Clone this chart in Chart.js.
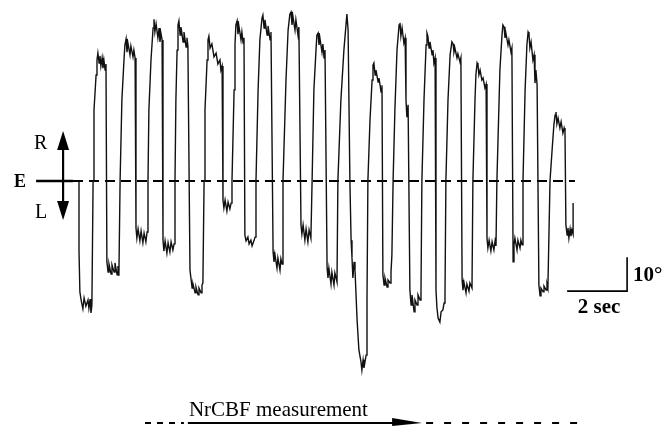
<!DOCTYPE html>
<html>
<head>
<meta charset="utf-8">
<script src="https://cdn.jsdelivr.net/npm/chart.js@4"></script>
<style>
  html, body { margin: 0; padding: 0; background: #fff; }
  canvas { display: block; }
</style>
</head>
<body>
<canvas id="chart" width="664" height="426"></canvas>
<script>
// Horizontal eye position (deg, R positive) against time (s)
const eyeTrace = [
  [0.00, 0], [0.00, -20.3], [0.03, -32.6], [0.07, -35.0], [0.13, -37.6], [0.17, -34.4], [0.23, -36.8], [0.30, -35.0], [0.33, -37.4], [0.37, -34.7], [0.40, -38.8], [0.43, -36.5],
  [0.47, 0], [0.50, 20.9], [0.57, 31.2], [0.60, 35.6],
  [0.63, 37.6], [0.67, 34.7], [0.70, 36.8], [0.73, 33.8], [0.77, 36.2], [0.80, 33.2], [0.83, 35.6], [0.87, 32.6], [0.90, 34.4],
  [0.93, -23.8], [0.97, -26.8], [1.00, -24.4], [1.07, -27.4], [1.10, -24.7], [1.17, -26.8], [1.20, -24.1], [1.27, -27.6], [1.30, -25.0], [1.33, -27.9],
  [1.37, 0], [1.43, 23.8], [1.50, 35.6], [1.53, 40.0],
  [1.57, 41.8], [1.60, 37.9], [1.63, 40.6], [1.70, 37.1], [1.73, 39.7], [1.80, 36.5], [1.83, 38.5], [1.87, 36.2],
  [1.90, -13.8], [1.93, -16.8], [1.97, -14.1], [2.03, -17.6], [2.07, -14.7], [2.13, -18.2], [2.17, -15.3], [2.23, -17.9], [2.27, -15.0],
  [2.30, 0], [2.33, 20.9], [2.40, 35.6], [2.47, 45.0],
  [2.50, 47.6], [2.53, 43.8], [2.57, 46.2], [2.63, 42.1], [2.67, 45.0], [2.70, 40.9], [2.73, 43.5], [2.77, 41.5],
  [2.80, -17.4], [2.83, -20.6], [2.87, -17.6], [2.93, -21.2], [2.97, -18.2], [3.03, -20.9], [3.07, -17.9], [3.13, -20.3], [3.17, -18.5],
  [3.20, 0], [3.23, 23.8], [3.27, 38.5], [3.30, 45.9],
  [3.33, 47.1], [3.37, 42.9], [3.40, 45.3], [3.47, 40.9], [3.50, 43.8], [3.57, 39.4], [3.60, 42.1], [3.63, 39.7],
  [3.70, -26.2], [3.77, -31.5], [3.80, -30.3], [3.87, -32.9], [3.90, -31.2], [3.97, -33.5], [4.00, -31.5], [4.07, -32.9], [4.10, -30.6], [4.13, -30.0],
  [4.17, 0], [4.20, 20.9], [4.27, 35.6], [4.30, 41.5],
  [4.33, 42.6], [4.37, 39.1], [4.43, 40.3], [4.50, 36.5], [4.57, 37.6], [4.63, 34.4], [4.70, 35.6], [4.73, 32.6], [4.77, 33.8],
  [4.80, -5.6], [4.83, -7.9], [4.87, -5.6], [4.93, -8.8], [4.97, -6.2], [5.03, -8.2], [5.07, -6.5],
  [5.10, 0], [5.17, 26.8], [5.20, 40.0], [5.23, 45.9],
  [5.27, 47.1], [5.30, 43.2], [5.33, 45.6], [5.40, 41.5], [5.43, 43.8], [5.47, 40.6], [5.50, 42.1],
  [5.53, -15.9], [5.57, -17.6], [5.63, -16.5], [5.67, -18.5], [5.73, -17.4], [5.77, -19.1], [5.83, -17.6], [5.87, -16.5],
  [5.90, 0], [5.97, 26.8], [6.03, 41.5], [6.10, 47.9],
  [6.13, 48.8], [6.17, 45.0], [6.20, 47.4], [6.27, 42.9], [6.30, 45.6], [6.37, 41.5], [6.40, 43.8],
  [6.47, -20.9], [6.50, -23.8], [6.53, -21.5], [6.60, -25.6], [6.63, -22.6], [6.70, -26.2], [6.73, -22.9], [6.77, -24.4],
  [6.80, 0], [6.90, 29.7], [6.97, 44.4], [7.03, 49.1],
  [7.07, 49.7], [7.10, 45.9], [7.13, 48.5], [7.20, 44.4], [7.23, 47.4], [7.30, 42.9], [7.33, 45.3],
  [7.40, -12.9], [7.43, -15.6], [7.47, -12.9], [7.53, -17.4], [7.57, -14.1], [7.63, -17.9], [7.67, -14.4], [7.73, -16.8],
  [7.77, 0], [7.83, 26.8], [7.90, 38.5], [7.93, 42.9],
  [7.97, 43.5], [8.00, 40.0], [8.03, 42.1], [8.10, 37.9], [8.13, 40.3], [8.17, 36.2], [8.20, 38.5],
  [8.27, -25.6], [8.30, -28.5], [8.33, -25.6], [8.40, -30.3], [8.43, -26.8], [8.50, -30.6], [8.53, -27.1], [8.60, -29.7],
  [8.63, 0], [8.73, 23.8], [8.83, 38.5], [8.93, 49.1], [8.97, 44.4], [9.03, 0],
  [9.07, -17.4], [9.10, -22.6], [9.13, -28.5], [9.17, -23.8], [9.20, -26.2], [9.27, -40.9], [9.33, -49.7], [9.40, -53.2], [9.43, -55.6], [9.47, -52.6], [9.50, -55.0], [9.57, -51.2], [9.60, -35.0],
  [9.63, 0], [9.70, 17.9], [9.77, 29.7], [9.80, 34.1],
  [9.83, 34.7], [9.87, 31.2], [9.90, 32.6], [9.97, 29.1], [10.00, 30.3], [10.07, 26.2], [10.10, 28.2],
  [10.13, -27.6], [10.17, -30.6], [10.20, -28.5], [10.27, -31.2], [10.30, -29.1], [10.37, -30.0], [10.40, -26.8], [10.43, -21.8],
  [10.47, 0], [10.53, 20.9], [10.60, 38.5], [10.67, 45.9],
  [10.70, 46.5], [10.73, 42.6], [10.77, 45.0], [10.83, 40.6], [10.87, 42.1], [10.90, 23.8], [10.93, 18.8], [10.97, 22.4],
  [11.03, -32.1], [11.07, -36.5], [11.10, -33.5], [11.17, -38.5], [11.20, -35.0], [11.27, -36.5], [11.30, -33.5], [11.37, -35.0], [11.40, -32.1],
  [11.43, 0], [11.50, 23.8], [11.57, 40.0], [11.60, 43.5],
  [11.63, 42.6], [11.67, 39.1], [11.70, 40.9], [11.77, 37.1], [11.80, 38.5], [11.83, 34.7], [11.87, 36.2],
  [11.90, -32.1], [11.93, -37.1], [11.97, -40.3], [12.03, -41.5], [12.07, -38.5], [12.13, -37.9], [12.17, -35.9], [12.20, -33.5],
  [12.23, 0], [12.30, 23.8], [12.37, 37.1], [12.43, 40.9],
  [12.47, 40.3], [12.50, 37.9], [12.53, 39.1], [12.60, 36.2], [12.63, 37.4], [12.70, 35.0], [12.73, 36.2],
  [12.77, -29.1], [12.80, -32.1], [12.83, -29.7], [12.90, -32.9], [12.93, -30.3], [13.00, -32.4], [13.03, -30.0], [13.10, -31.5],
  [13.13, 0], [13.20, 23.8], [13.23, 31.2], [13.27, 34.7],
  [13.30, 34.1], [13.33, 31.2], [13.37, 32.6], [13.43, 29.7], [13.47, 30.3], [13.53, 27.4], [13.57, 28.5],
  [13.60, -16.8], [13.63, -19.7], [13.67, -17.4], [13.73, -20.6], [13.77, -17.9], [13.83, -20.3], [13.87, -17.6], [13.90, -19.1],
  [13.93, 0], [14.03, 32.6], [14.10, 42.9], [14.13, 45.9],
  [14.17, 45.3], [14.20, 42.1], [14.23, 43.5], [14.30, 40.0], [14.33, 41.5], [14.40, 37.9], [14.43, 39.1],
  [14.47, -23.8], [14.50, -18.8], [14.53, -16.8], [14.60, -20.3], [14.63, -17.4], [14.70, -19.7], [14.73, -17.4], [14.77, -18.8],
  [14.80, 0], [14.87, 26.8], [14.93, 40.0], [14.97, 43.8],
  [15.00, 43.2], [15.03, 39.1], [15.07, 40.9], [15.13, 35.6], [15.17, 37.1], [15.20, 28.8], [15.23, 32.6], [15.27, 28.2],
  [15.33, -30.6], [15.37, -33.8], [15.40, -31.5], [15.47, -32.6], [15.50, -30.9], [15.57, -32.1], [15.60, -30.3], [15.63, -31.5],
  [15.70, 0], [15.77, 9.1], [15.83, 16.5], [15.87, 19.4],
  [15.90, 20.3], [15.93, 16.8], [15.97, 18.5], [16.03, 15.6], [16.07, 17.4], [16.13, 14.1], [16.17, 15.6], [16.20, 14.4],
  [16.23, -12.9], [16.27, -15.9], [16.30, -13.8], [16.33, -16.8], [16.37, -14.1], [16.40, -16.2], [16.43, -14.4], [16.47, -15.6], [16.47, -6.5]
];

// Axis ranges (s, deg) and reference marks
const timeRange = [-2.633, 19.5];
const degRange = [-72.06, 53.24];
const eLineSolid = [-1.43, -0.2];
const eLineDashed = [-0.2, 16.53];
const dirArrow = { t: -0.53, top: 14.7, bottom: -11.5 };
const scaleBarSec = 2;
const scaleBarDeg = 10;
const scaleBarCorner = [18.27, -32.4];
const nrcbfWindow = [3.63, 11.37];
const nrcbfDashed = [2.2, 16.97];

const serif = "'Liberation Serif', 'DejaVu Serif', serif";

const ctx = document.getElementById('chart').getContext('2d');

const annotations = {
  id: 'annotations',
  afterDatasetsDraw(chart) {
    const c = chart.ctx;
    const xs = chart.scales.x, ys = chart.scales.y;
    c.save();
    c.fillStyle = '#000';
    c.strokeStyle = '#000';

    // R / L arrow
    const ax = xs.getPixelForValue(dirArrow.t);
    const aTop = ys.getPixelForValue(dirArrow.top);
    const aBot = ys.getPixelForValue(dirArrow.bottom);
    c.lineWidth = 2.2;
    c.beginPath();
    c.moveTo(ax, aTop + 10);
    c.lineTo(ax, aBot - 10);
    c.stroke();
    c.beginPath();
    c.moveTo(ax, aTop); c.lineTo(ax - 6, aTop + 19); c.lineTo(ax + 6, aTop + 19); c.closePath();
    c.fill();
    c.beginPath();
    c.moveTo(ax, aBot); c.lineTo(ax - 6, aBot - 19); c.lineTo(ax + 6, aBot - 19); c.closePath();
    c.fill();

    c.textBaseline = 'alphabetic';
    c.textAlign = 'left';
    c.font = '20px ' + serif;
    c.fillText('R', 34, 149);
    c.fillText('L', 35, 218);
    c.font = 'bold 18px ' + serif;
    c.fillText('E', 14, 187);

    // scale bar
    const sx1 = xs.getPixelForValue(scaleBarCorner[0]);
    const sx0 = xs.getPixelForValue(scaleBarCorner[0] - scaleBarSec);
    const sy0 = ys.getPixelForValue(scaleBarCorner[1]);
    const sy1 = ys.getPixelForValue(scaleBarCorner[1] + scaleBarDeg);
    c.lineWidth = 1.6;
    c.beginPath();
    c.moveTo(sx0, sy0); c.lineTo(sx1, sy0); c.lineTo(sx1, sy1);
    c.stroke();
    c.font = 'bold 21px ' + serif;
    c.fillText('10°', sx1 + 6, sy1 + 24);
    c.textAlign = 'center';
    c.fillText('2 sec', (sx0 + sx1) / 2 + 2, sy0 + 22);

    // NrCBF measurement bar
    const by = 423;
    const d0 = xs.getPixelForValue(nrcbfDashed[0]);
    const d1 = xs.getPixelForValue(nrcbfDashed[1]);
    const w0 = xs.getPixelForValue(nrcbfWindow[0]);
    const w1 = xs.getPixelForValue(nrcbfWindow[1]);
    c.lineWidth = 2;
    c.setLineDash([6, 6]);
    c.beginPath(); c.moveTo(d0, by); c.lineTo(w0 - 4, by); c.stroke();
    c.setLineDash([7, 11]);
    c.beginPath(); c.moveTo(w1 + 6, by); c.lineTo(d1, by); c.stroke();
    c.setLineDash([]);
    c.lineWidth = 1.8;
    c.beginPath(); c.moveTo(w0, by); c.lineTo(w1 - 20, by); c.stroke();
    c.beginPath();
    c.moveTo(w1 - 28, by - 5); c.lineTo(w1 + 2, by); c.lineTo(w1 - 28, by + 3); c.closePath();
    c.fill();
    c.textAlign = 'left';
    c.font = '21px ' + serif;
    c.fillText('NrCBF measurement', w0 + 1, 416);
    c.restore();
  }
};

new Chart(ctx, {
  type: 'line',
  data: {
    datasets: [
      {
        label: 'eye position',
        data: eyeTrace.map(([t, d]) => ({ x: t, y: d })),
        borderColor: '#111',
        borderWidth: 1.4,
        pointRadius: 0,
        tension: 0
      },
      {
        label: 'E solid',
        data: eLineSolid.map(t => ({ x: t, y: 0 })),
        borderColor: '#000',
        borderWidth: 2.4,
        pointRadius: 0
      },
      {
        label: 'E dashed',
        data: eLineDashed.map(t => ({ x: t, y: 0 })),
        borderColor: '#000',
        borderWidth: 1.8,
        borderDash: [10, 6],
        pointRadius: 0
      }
    ]
  },
  options: {
    responsive: false,
    animation: false,
    layout: { padding: 0 },
    plugins: {
      legend: { display: false },
      tooltip: { enabled: false }
    },
    scales: {
      x: { type: 'linear', display: false, min: timeRange[0], max: timeRange[1] },
      y: { type: 'linear', display: false, min: degRange[0], max: degRange[1] }
    }
  },
  plugins: [annotations]
});
</script>
</body>
</html>
